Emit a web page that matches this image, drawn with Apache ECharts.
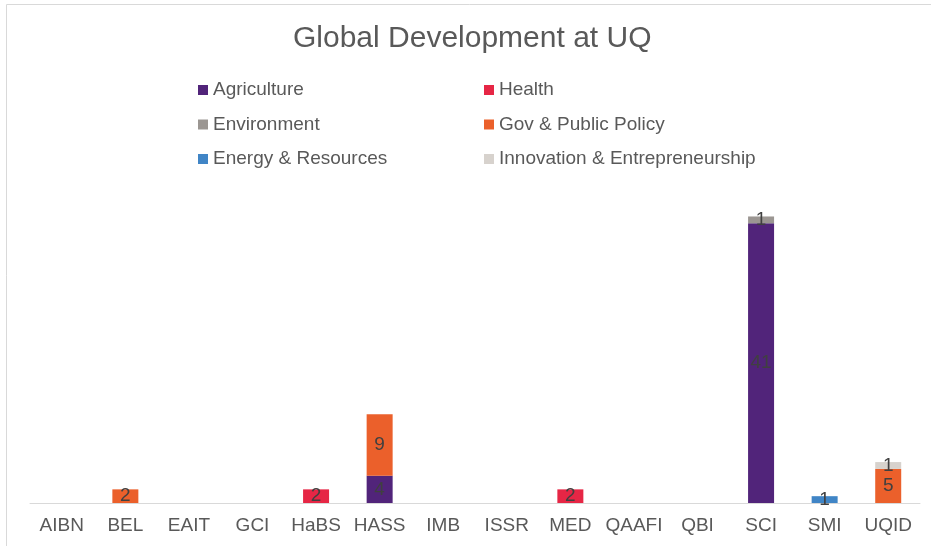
<!DOCTYPE html>
<html>
<head>
<meta charset="utf-8">
<title>Global Development at UQ</title>
<script src="https://cdn.jsdelivr.net/npm/echarts@6/dist/echarts.min.js"></script>
<style>
  html, body { margin: 0; padding: 0; background: #fff; }
  #chart { width: 931px; height: 546px; }
</style>
</head>
<body>
<div id="chart"></div>
<script>
// faculties / institutes along the x axis
const categories = ['AIBN', 'BEL', 'EAIT', 'GCI', 'HaBS', 'HASS', 'IMB', 'ISSR', 'MED', 'QAAFI', 'QBI', 'SCI', 'SMI', 'UQID']

// one array per theme, same order as categories
const agriculture = [0, 0, 0, 0, 0, 4, 0, 0, 0, 0, 0, 41, 0, 0]
const health = [0, 0, 0, 0, 2, 0, 0, 0, 2, 0, 0, 0, 0, 0]
const environment = [0, 0, 0, 0, 0, 0, 0, 0, 0, 0, 0, 1, 0, 0]
const govPolicy = [0, 2, 0, 0, 0, 9, 0, 0, 0, 0, 0, 0, 0, 5]
const energy = [0, 0, 0, 0, 0, 0, 0, 0, 0, 0, 0, 0, 1, 0]
const innovation = [0, 0, 0, 0, 0, 0, 0, 0, 0, 0, 0, 0, 0, 1]

const seriesDefs = [
  { name: 'Agriculture', data: agriculture, color: '#51247A' },
  { name: 'Health', data: health, color: '#E62645' },
  { name: 'Environment', data: environment, color: '#9B9692' },
  { name: 'Gov & Public Policy', data: govPolicy, color: '#EB602B' },
  { name: 'Energy & Resources', data: energy, color: '#4085C6' },
  { name: 'Innovation & Entrepreneurship', data: innovation, color: '#D7D2CD' }
]

const font = '"Liberation Sans", Arial, sans-serif'
const legendText = { color: '#595959', fontSize: 19, fontFamily: font, lineHeight: 20 }

const chart = echarts.init(document.getElementById('chart'))

chart.setOption({
  animation: false,
  title: {
    text: 'Global Development at UQ',
    left: 288,
    top: 19,
    textStyle: { color: '#595959', fontSize: 30, fontWeight: 'normal', fontFamily: font }
  },
  legend: [
    {
      orient: 'vertical',
      left: 193,
      top: 75,
      itemWidth: 10,
      itemHeight: 10,
      itemGap: 14.5,
      icon: 'rect',
      selectedMode: false,
      textStyle: legendText,
      data: ['Agriculture', 'Environment', 'Energy & Resources']
    },
    {
      orient: 'vertical',
      left: 479,
      top: 75,
      itemWidth: 10,
      itemHeight: 10,
      itemGap: 14.5,
      icon: 'rect',
      selectedMode: false,
      textStyle: legendText,
      data: ['Health', 'Gov & Public Policy', 'Innovation & Entrepreneurship']
    }
  ],
  graphic: [
    {
      type: 'rect',
      shape: { x: 6.5, y: 4.5, width: 940, height: 560 },
      style: { fill: 'none', stroke: '#D9D9D9', lineWidth: 1 },
      silent: true
    }
  ],
  grid: {
    left: 30,
    right: 11,
    top: 196,
    bottom: 43,
    containLabel: false
  },
  xAxis: {
    type: 'category',
    data: categories,
    axisLine: { lineStyle: { color: '#D9D9D9', width: 1 } },
    axisTick: { show: false },
    axisLabel: { color: '#595959', fontSize: 19, fontFamily: font, margin: 13, interval: 0 }
  },
  yAxis: {
    type: 'value',
    min: 0,
    max: 45,
    show: false
  },
  series: seriesDefs.map(s => ({
    name: s.name,
    type: 'bar',
    stack: 'total',
    barWidth: 26,
    data: s.data,
    itemStyle: { color: s.color },
    label: {
      show: true,
      position: 'inside',
      color: '#404040',
      fontSize: 19,
      fontFamily: font,
      formatter: p => (p.value ? String(p.value) : '')
    }
  }))
})
</script>
</body>
</html>
